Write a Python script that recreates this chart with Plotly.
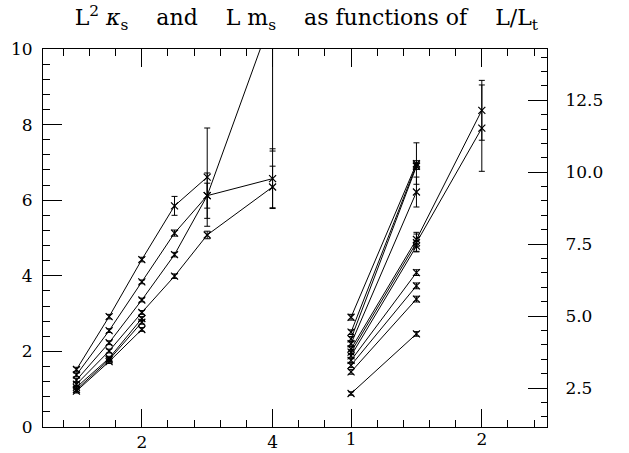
import plotly.graph_objects as go

# ---------------- data ----------------
# left group: L^2 kappa_s vs L/L_t (left axis)
left_x = [1.0, 1.5, 2.0, 2.5, 3.0, 4.0]
left_series = [
    ([1.52, 2.92, 4.43, 5.85, 6.61], [0.06, 0.06, 0.06, 0.25, 1.30]),
    ([1.38, 2.55, 3.84, 5.13, 6.12, 6.57], [0.05, 0.05, 0.05, 0.08, 0.33, 0.79]),
    ([1.24, 2.23, 3.36, 4.56, 6.12, 10.9], [0.05, 0.05, 0.05, 0.06, 0.60, 3.60]),
    ([1.13, 2.01, 3.03, 3.99, 5.08, 6.35], [0.05, 0.05, 0.05, 0.06, 0.10, 0.55]),
    ([1.05, 1.82, 2.87], [0.05, 0.05, 0.05]),
    ([0.99, 1.78, 2.77], [0.05, 0.05, 0.05]),
    ([0.95, 1.73, 2.58], [0.05, 0.05, 0.05]),
]
# right group: L m_s vs L/L_t (right axis)
right_x = [1.0, 1.5, 2.0]
right_series = [
    ([4.96, 10.30], [0.10, 0.72]),
    ([4.44, 10.25], [0.08, 0.15]),
    ([4.21, 10.20], [0.08, 0.10]),
    ([4.04, 9.31], [0.08, 0.52]),
    ([3.86, 7.66, 12.15], [0.08, 0.25, 1.04]),
    ([3.75, 7.55, 11.53], [0.08, 0.30, 1.50]),
    ([3.62, 7.43], [0.08, 0.20]),
    ([3.46, 6.51], [0.08, 0.10]),
    ([3.29, 6.05], [0.08, 0.10]),
    ([3.06, 5.59], [0.08, 0.10]),
    ([2.31, 4.38], [0.06, 0.08]),
]
left_ticks = [2, 4]
right_ticks = [1, 2]
top_major_ticks = [2, 4, 5.2, 7.2]   # positions of all majors in left-axis units
left_yticks = [0, 2, 4, 6, 8, 10]
right_yticks = [2.5, 5.0, 7.5, 10.0, 12.5]
right_yticktext = ["2.5", "5.0", "7.5", "10.0", "12.5"]

X1_RANGE = [0.4885, 8.197]
X2_RANGE = [-1.356, 2.4985]

FONT = "DejaVu Serif"
fig = go.Figure()

marker = dict(symbol="x-thin", size=7, color="black", line=dict(color="black", width=1.2))
for ys, es in left_series:
    fig.add_trace(go.Scatter(
        x=left_x[:len(ys)], y=ys, mode="lines+markers", xaxis="x", yaxis="y",
        line=dict(color="black", width=1), marker=marker,
        error_y=dict(type="data", array=es, color="black", thickness=1, width=3),
        showlegend=False))
for ys, es in right_series:
    fig.add_trace(go.Scatter(
        x=right_x[:len(ys)], y=ys, mode="lines+markers", xaxis="x2", yaxis="y2",
        line=dict(color="black", width=1), marker=marker,
        error_y=dict(type="data", array=es, color="black", thickness=1, width=3),
        showlegend=False))

tickfont = dict(family=FONT, size=17, color="black")
minor_x = dict(dtick=0.4, tick0=0, ticks="inside", ticklen=7, tickcolor="black", tickwidth=1)
gap = "\u00a0" * 4
title_text = (f"L<sup>2</sup> <i>κ</i><sub>s</sub>{gap}and{gap}L m<sub>s</sub>{gap}"
              f"as functions of{gap}L/L<sub>t</sub>")
fig.update_layout(
    width=629, height=453,
    margin=dict(l=43, r=82, t=49, b=26, autoexpand=False),
    paper_bgcolor="white", plot_bgcolor="white",
    title=dict(
        text=title_text,
        font=dict(family=FONT, size=22, color="black"),
        xref="container", x=0.487, xanchor="center", yref="container", y=0.962, yanchor="middle"),
    xaxis=dict(range=X1_RANGE, tickvals=left_ticks, ticktext=[str(v) for v in left_ticks],
               ticks="inside", ticklen=18, tickwidth=1, tickcolor="black",
               minor=minor_x, automargin=False,
               showline=True, linecolor="black", linewidth=1, mirror=False,
               showgrid=False, zeroline=False, tickfont=tickfont),
    xaxis2=dict(range=X2_RANGE, overlaying="x", anchor="y", side="bottom",
                tickvals=right_ticks, ticktext=[str(v) for v in right_ticks],
                ticks="inside", ticklen=18, tickwidth=1, tickcolor="black", automargin=False,
                showline=False, showgrid=False, zeroline=False, tickfont=tickfont),
    xaxis3=dict(range=X1_RANGE, overlaying="x", anchor="y", side="top",
                tickvals=top_major_ticks, showticklabels=False,
                ticks="inside", ticklen=18, tickwidth=1, tickcolor="black",
                minor=minor_x, automargin=False,
                showline=True, linecolor="black", linewidth=1,
                showgrid=False, zeroline=False),
    yaxis=dict(range=[0, 10], tickvals=left_yticks, ticktext=[str(v) for v in left_yticks],
               ticks="inside", ticklen=19, tickwidth=1, tickcolor="black",
               minor=dict(dtick=0.4, tick0=0, ticks="inside", ticklen=7, tickcolor="black", tickwidth=1),
               showline=True, linecolor="black", linewidth=1, automargin=False,
               showgrid=False, zeroline=False, tickfont=tickfont, ticklabelstandoff=6),
    yaxis2=dict(range=[1.146, 14.28], overlaying="y", side="right", anchor="x",
                tickvals=right_yticks, ticktext=right_yticktext,
                ticks="inside", ticklen=19, tickwidth=1, tickcolor="black",
                minor=dict(dtick=0.5, tick0=0, ticks="inside", ticklen=6, tickcolor="black", tickwidth=1),
                showline=True, linecolor="black", linewidth=1, automargin=False,
                showgrid=False, zeroline=False, tickfont=tickfont, ticklabelstandoff=14),
)
# invisible trace so the top axis is drawn
fig.add_trace(go.Scatter(x=[left_x[0]], y=[left_yticks[0]], xaxis="x3", yaxis="y",
                         mode="markers", marker=dict(opacity=0), showlegend=False,
                         hoverinfo="skip"))
fig.write_html("out.html")
